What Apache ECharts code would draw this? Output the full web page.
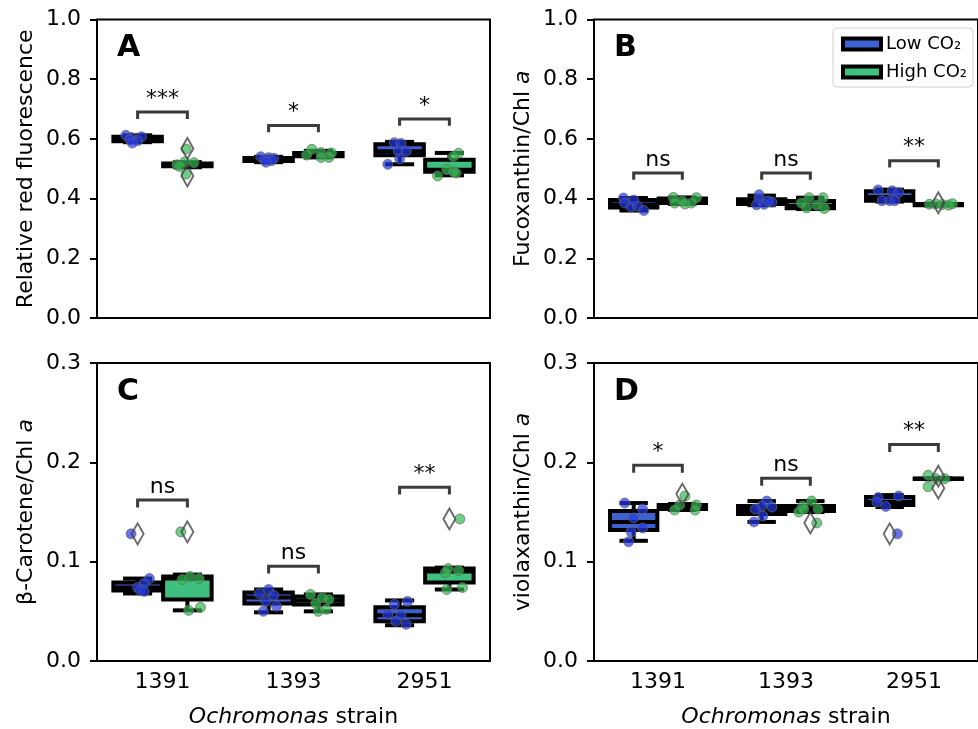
<!DOCTYPE html>
<html>
<head>
<meta charset="utf-8">
<title>Ochromonas pigments, low vs high CO2</title>
<script src="https://cdn.jsdelivr.net/npm/echarts@6/dist/echarts.min.js"></script>
<style>
  html, body { margin: 0; padding: 0; background: #fff; }
  #chart { width: 978px; height: 729px; }
</style>
</head>
<body>
<div id="chart"></div>
<script>
const FONT = '"DejaVu Sans", sans-serif';

const strains = ['1391', '1393', '2951'];
const hues = ['Low CO₂', 'High CO₂'];

// box stats per strain: [min, q1, median, q3, max]
const boxLowA = [[0.589, 0.592, 0.600, 0.607, 0.612], [0.522, 0.526, 0.531, 0.536, 0.540], [0.515, 0.545, 0.559, 0.582, 0.590]];
const boxHighA = [[0.505, 0.508, 0.513, 0.518, 0.522], [0.538, 0.542, 0.548, 0.553, 0.560], [0.478, 0.490, 0.497, 0.530, 0.553]];
const boxLowB = [[0.360, 0.370, 0.380, 0.395, 0.402], [0.378, 0.382, 0.390, 0.398, 0.410], [0.390, 0.393, 0.405, 0.425, 0.430]];
const boxHighB = [[0.382, 0.385, 0.392, 0.400, 0.404], [0.365, 0.368, 0.376, 0.392, 0.403], [0.377, 0.378, 0.380, 0.382, 0.383]];
const boxLowC = [[0.068, 0.071, 0.074, 0.079, 0.083], [0.049, 0.058, 0.064, 0.069, 0.072], [0.036, 0.040, 0.046, 0.054, 0.061]];
const boxHighC = [[0.051, 0.062, 0.083, 0.085, 0.087], [0.050, 0.057, 0.061, 0.065, 0.067], [0.072, 0.079, 0.090, 0.093, 0.094]];
const boxLowD = [[0.121, 0.132, 0.140, 0.151, 0.159], [0.140, 0.148, 0.152, 0.156, 0.161], [0.155, 0.157, 0.160, 0.165, 0.167]];
const boxHighD = [[0.152, 0.153, 0.155, 0.157, 0.158], [0.150, 0.151, 0.154, 0.156, 0.161], [0.183, 0.1832, 0.1835, 0.1838, 0.184]];

// individual replicates per strain: [jitter, value]
const dotsLowA = [
  [[-0.09, 0.612], [-0.05, 0.605], [0.03, 0.607], [-0.06, 0.597], [0.0, 0.594], [-0.04, 0.586]],
  [[-0.06, 0.540], [0.0, 0.537], [0.04, 0.535], [-0.03, 0.530], [0.02, 0.527], [-0.02, 0.522]],
  [[-0.04, 0.587], [0.01, 0.585], [-0.01, 0.560], [0.05, 0.559], [0.0, 0.533], [-0.09, 0.515]]
];
const dotsHighA = [
  [[-0.01, 0.566], [-0.01, 0.482], [-0.08, 0.513], [-0.02, 0.523], [0.05, 0.520], [-0.06, 0.508]],
  [[-0.09, 0.546], [-0.05, 0.565], [0.02, 0.554], [0.02, 0.538], [0.08, 0.538], [0.10, 0.553]],
  [[0.07, 0.552], [0.03, 0.541], [-0.02, 0.497], [0.03, 0.490], [-0.09, 0.476], [0.05, 0.486]]
];
const dotsLowB = [
  [[-0.08, 0.402], [-0.07, 0.385], [-0.02, 0.372], [0.03, 0.375], [0.08, 0.360], [0.0, 0.395]],
  [[-0.02, 0.413], [-0.02, 0.398], [-0.04, 0.379], [0.02, 0.381], [0.08, 0.388], [0.05, 0.392]],
  [[-0.09, 0.429], [0.02, 0.426], [0.07, 0.420], [-0.06, 0.393], [0.0, 0.393], [0.04, 0.393]]
];
const dotsHighB = [
  [[-0.07, 0.404], [-0.06, 0.385], [0.02, 0.382], [0.07, 0.385], [0.11, 0.403], [0.0, 0.392]],
  [[-0.01, 0.403], [0.10, 0.403], [-0.03, 0.369], [0.11, 0.367], [-0.07, 0.385], [0.05, 0.378]],
  [[-0.07, 0.381], [-0.02, 0.382], [0.03, 0.380], [0.08, 0.378], [0.11, 0.383]]
];
const dotsLowC = [
  [[-0.05, 0.128], [0.09, 0.083], [0.05, 0.078], [0.0, 0.074], [0.02, 0.071], [0.05, 0.070]],
  [[0.0, 0.072], [-0.07, 0.068], [0.04, 0.066], [-0.02, 0.060], [0.06, 0.055], [-0.04, 0.050]],
  [[0.06, 0.060], [-0.04, 0.057], [-0.09, 0.047], [0.01, 0.046], [-0.03, 0.040], [0.05, 0.037]]
];
const dotsHighC = [
  [[-0.05, 0.130], [0.02, 0.085], [0.09, 0.083], [-0.04, 0.082], [0.01, 0.051], [0.10, 0.054]],
  [[-0.06, 0.067], [0.03, 0.064], [0.08, 0.062], [-0.02, 0.058], [0.06, 0.052], [0.0, 0.050]],
  [[-0.01, 0.093], [-0.03, 0.089], [0.07, 0.091], [-0.02, 0.072], [0.10, 0.074], [0.08, 0.143]]
];
const dotsLowD = [
  [[-0.07, 0.159], [0.07, 0.153], [0.0, 0.144], [0.07, 0.134], [-0.02, 0.130], [-0.04, 0.120]],
  [[0.04, 0.161], [0.0, 0.156], [0.08, 0.155], [-0.05, 0.153], [0.01, 0.146], [-0.06, 0.140]],
  [[0.07, 0.166], [-0.09, 0.1645], [-0.10, 0.160], [-0.03, 0.1555], [0.06, 0.128]]
];
const dotsHighD = [
  [[0.02, 0.166], [-0.02, 0.157], [-0.06, 0.152], [0.11, 0.157], [0.10, 0.152]],
  [[0.01, 0.161], [-0.06, 0.156], [0.06, 0.153], [-0.05, 0.153], [-0.09, 0.150], [0.05, 0.139]],
  [[-0.08, 0.187], [-0.08, 0.1755], [-0.02, 0.1835], [0.05, 0.1835]]
];

// fliers: [strain index, value]
const outLowA = [], outHighA = [[0, 0.568], [0, 0.476]];
const outLowB = [], outHighB = [[2, 0.386]];
const outLowC = [[0, 0.128]], outHighC = [[0, 0.130], [2, 0.143]];
const outLowD = [[2, 0.128]], outHighD = [[0, 0.168], [1, 0.139], [2, 0.186], [2, 0.174]];

// significance brackets per strain
const bracketA = [0.690, 0.645, 0.667], signifA = ['***', '*', '*'];
const bracketB = [0.486, 0.486, 0.527], signifB = ['ns', 'ns', '**'];
const bracketC = [0.162, 0.0955, 0.175], signifC = ['ns', 'ns', '**'];
const bracketD = [0.197, 0.184, 0.218], signifD = ['*', 'ns', '**'];

const panels = [
  { letter: 'A', yName: 'Relative red fluorescence', max: 1, interval: 0.2, drop: 0.023,
    low: boxLowA, high: boxHighA, dotsLow: dotsLowA, dotsHigh: dotsHighA, outLow: outLowA, outHigh: outHighA, brackets: bracketA, signif: signifA },
  { letter: 'B', yName: 'Fucoxanthin/Chl {i|a}', max: 1, interval: 0.2, drop: 0.023,
    low: boxLowB, high: boxHighB, dotsLow: dotsLowB, dotsHigh: dotsHighB, outLow: outLowB, outHigh: outHighB, brackets: bracketB, signif: signifB },
  { letter: 'C', yName: 'β-Carotene/Chl {i|a}', max: 0.3, interval: 0.1, drop: 0.0075,
    low: boxLowC, high: boxHighC, dotsLow: dotsLowC, dotsHigh: dotsHighC, outLow: outLowC, outHigh: outHighC, brackets: bracketC, signif: signifC },
  { letter: 'D', yName: 'violaxanthin/Chl {i|a}', max: 0.3, interval: 0.1, drop: 0.0075,
    low: boxLowD, high: boxHighD, dotsLow: dotsLowD, dotsHigh: dotsHighD, outLow: outLowD, outHigh: outHighD, brackets: bracketD, signif: signifD }
];

const gridBoxes = [
  { left: 97, top: 19.5, width: 393, height: 298.5 },
  { left: 594, top: 19.5, width: 393, height: 298.5 },
  { left: 97, top: 363, width: 393, height: 299.5 },
  { left: 594, top: 363, width: 393, height: 299.5 }
];

const HUE_OFFSET = 0.19;
const BOX_WIDTH = 0.37;
const boxColors = ['#3d62d0', '#40c07f'];
const dotColors = ['#2439e4', '#32b94e'];
const nameStyle = {
  fontSize: 22, color: '#000', fontFamily: FONT,
  rich: { i: { fontSize: 22, fontStyle: 'italic', fontFamily: FONT, color: '#000' } }
};

const renderBox = (params, api) => {
  const x = api.value(0);
  const lo = api.coord([x, api.value(1)]);
  const q1 = api.coord([x, api.value(2)]);
  const md = api.coord([x, api.value(3)]);
  const q3 = api.coord([x, api.value(4)]);
  const hi = api.coord([x, api.value(5)]);
  const w = api.size([BOX_WIDTH, 0])[0];
  const cap = w * 0.3;
  const ink = { stroke: '#000', lineWidth: 4 };
  const seg = (x1, y1, x2, y2) => ({ type: 'line', shape: { x1, y1, x2, y2 }, style: ink });
  return {
    type: 'group',
    children: [
      seg(lo[0], lo[1], q1[0], q1[1]),
      seg(q3[0], q3[1], hi[0], hi[1]),
      seg(lo[0] - cap, lo[1], lo[0] + cap, lo[1]),
      seg(hi[0] - cap, hi[1], hi[0] + cap, hi[1]),
      {
        type: 'rect',
        shape: { x: q3[0] - w / 2, y: q3[1], width: w, height: q1[1] - q3[1] },
        style: { fill: api.visual('color'), stroke: '#000', lineWidth: 4 }
      },
      seg(md[0] - w / 2, md[1], md[0] + w / 2, md[1])
    ]
  };
};

const makeBracketRenderer = (labels) => (params, api) => {
  const y = api.value(2);
  const drop = api.value(3);
  const a = api.coord([api.value(0), y - drop]);
  const b = api.coord([api.value(0), y]);
  const c = api.coord([api.value(1), y]);
  const d = api.coord([api.value(1), y - drop]);
  return {
    type: 'group',
    children: [
      { type: 'polyline', shape: { points: [a, b, c, d] }, style: { stroke: '#3b3b3b', lineWidth: 3, fill: null } },
      {
        type: 'text',
        x: (b[0] + c[0]) / 2,
        y: b[1] - 2,
        style: { text: labels[params.dataIndex], fontSize: 22, fontFamily: FONT, fill: '#000', align: 'center', verticalAlign: 'bottom' }
      }
    ]
  };
};

const grid = [];
const xAxis = [];
const yAxis = [];
const series = [];
const graphic = [];

panels.forEach((p, g) => {
  grid.push({ ...gridBoxes[g], show: true, borderColor: '#000', borderWidth: 2 });

  // hidden value axis that places the boxes, dots and brackets
  xAxis.push({ gridIndex: g, type: 'value', position: 'top', min: -0.5, max: 2.5, show: false, axisLine: { onZero: false } });

  yAxis.push({
    gridIndex: g,
    type: 'value',
    position: 'left',
    min: 0,
    max: p.max,
    interval: p.interval,
    name: p.yName,
    nameLocation: 'middle',
    nameGap: 60,
    nameTextStyle: nameStyle,
    axisLine: { show: false, onZero: false },
    axisTick: { show: true, length: 7, lineStyle: { color: '#000', width: 2 } },
    axisLabel: { fontSize: 22, color: '#000', fontFamily: FONT, margin: 16, formatter: (v) => v.toFixed(1) },
    splitLine: { show: false }
  });

  [p.low, p.high].forEach((boxes, h) => {
    const off = h === 0 ? -HUE_OFFSET : HUE_OFFSET;
    series.push({
      name: hues[h],
      type: 'custom',
      xAxisIndex: g,
      yAxisIndex: g,
      itemStyle: { color: boxColors[h] },
      renderItem: renderBox,
      encode: { x: 0, y: [1, 2, 3, 4, 5] },
      data: boxes.map((s, i) => [i + off, ...s]),
      z: 2
    });
  });

  [p.dotsLow, p.dotsHigh].forEach((groups, h) => {
    const off = h === 0 ? -HUE_OFFSET : HUE_OFFSET;
    const data = [];
    groups.forEach((pts, i) => pts.forEach(([j, v]) => data.push([i + off + j, v])));
    series.push({
      name: hues[h] + ' replicates',
      type: 'scatter',
      xAxisIndex: g,
      yAxisIndex: g,
      symbolSize: 10,
      itemStyle: { color: dotColors[h], opacity: 0.7, borderColor: '#666', borderWidth: 1 },
      data,
      z: 3
    });
  });

  [p.outLow, p.outHigh].forEach((pts, h) => {
    const off = h === 0 ? -HUE_OFFSET : HUE_OFFSET;
    series.push({
      name: hues[h] + ' fliers',
      type: 'scatter',
      xAxisIndex: g,
      yAxisIndex: g,
      symbol: 'diamond',
      symbolSize: [12, 21],
      itemStyle: { color: 'rgba(255,255,255,0)', borderColor: '#444', borderWidth: 2 },
      data: pts.map(([i, v]) => [i + off, v]),
      z: 4
    });
  });

  series.push({
    name: 'significance',
    type: 'custom',
    xAxisIndex: g,
    yAxisIndex: g,
    renderItem: makeBracketRenderer(p.signif),
    data: p.brackets.map((y, i) => [i - HUE_OFFSET, i + HUE_OFFSET, y, p.drop]),
    z: 5
  });

  graphic.push({
    type: 'text',
    left: gridBoxes[g].left + 20,
    top: gridBoxes[g].top + 14,
    style: { text: p.letter, fontSize: 30, fontWeight: 'bold', fontFamily: FONT, fill: '#000' }
  });
});

// strain labels only on the bottom row
[2, 3].forEach((g) => {
  xAxis.push({
    gridIndex: g,
    type: 'category',
    position: 'bottom',
    data: strains,
    boundaryGap: true,
    axisLine: { show: false, onZero: false },
    axisTick: { alignWithLabel: true, length: 7, lineStyle: { color: '#000', width: 2 } },
    axisLabel: { fontSize: 22, color: '#000', fontFamily: FONT, margin: 10 },
    splitLine: { show: false },
    name: '{i|Ochromonas} strain',
    nameLocation: 'middle',
    nameGap: 45,
    nameTextStyle: nameStyle
  });
});

const chart = echarts.init(document.getElementById('chart'));
chart.setOption({
  animation: false,
  backgroundColor: '#fff',
  grid,
  xAxis,
  yAxis,
  series,
  graphic,
  legend: {
    data: hues,
    orient: 'vertical',
    left: 833,
    top: 28,
    icon: 'rect',
    itemWidth: 38,
    itemHeight: 11,
    itemGap: 10,
    padding: [7, 6, 6, 8],
    itemStyle: { borderColor: '#000', borderWidth: 4 },
    textStyle: { fontSize: 18, color: '#000', fontFamily: FONT },
    backgroundColor: '#fff',
    borderColor: '#d0d0d0',
    borderWidth: 1,
    borderRadius: 4
  }
});
</script>
</body>
</html>
